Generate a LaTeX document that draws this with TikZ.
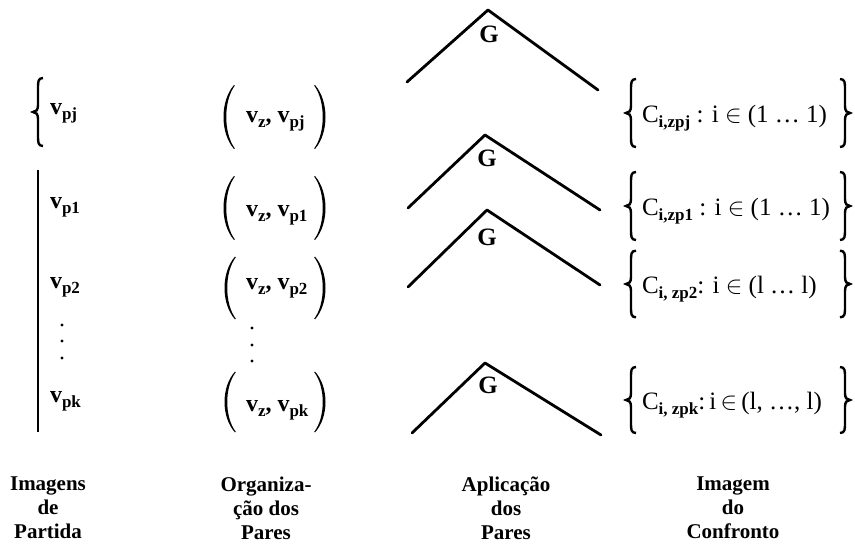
\documentclass[tikz,border=0pt]{standalone}
\usepackage{fontspec}
\setmainfont{Liberation Serif}
\newcommand{\vbsub}[2]{\textbf{#1}\raisebox{-5pt}{\fontsize{17}{17}\selectfont\bfseries #2}}
\newcommand{\csub}[1]{C\raisebox{-5pt}{\fontsize{17}{17}\selectfont\bfseries #1}}
\begin{document}
\begin{tikzpicture}[x=1pt,y=-1pt,
  every node/.style={inner sep=0pt, outer sep=0pt},
  vtext/.style={anchor=base west, font=\fontsize{24}{26}\selectfont},
  ctext/.style={anchor=base west, font=\fontsize{25}{27}\selectfont},
  gnode/.style={font=\fontsize{25}{26}\selectfont\bfseries},
  chev/.style={line width=2.8pt, line cap=round, line join=round},
  lbl/.style={align=center, font=\fontsize{21}{24}\selectfont\bfseries},
  dotm/.style={circle, fill=black, minimum size=3.4pt, inner sep=0pt},
  lpar/.pic={\fill (5,-32) .. controls (-9,-16) and (-9,16) .. (5,32)
      -- (5.8,31.4) .. controls (-5.6,16) and (-5.6,-16) .. (5.8,-31.4) -- cycle;},
  rpar/.pic={\fill (-5,-32) .. controls (9,-16) and (9,16) .. (-5,32)
      -- (-5.8,31.4) .. controls (5.6,16) and (5.6,-16) .. (-5.8,-31.4) -- cycle;},
  lbrace/.pic={\draw[line width=2.4pt] (5,-34) .. controls (0,-34) and (0,-30) .. (0,-24)
      -- (0,-7) .. controls (0,-2) and (-2,0) .. (-5,0) .. controls (-2,0) and (0,2) .. (0,7)
      -- (0,24) .. controls (0,30) and (0,34) .. (5,34);},
  rbrace/.pic={\draw[line width=2.4pt] (-5,-34) .. controls (0,-34) and (0,-30) .. (0,-24)
      -- (0,-7) .. controls (0,-2) and (2,0) .. (5,0) .. controls (2,0) and (0,2) .. (0,7)
      -- (0,24) .. controls (0,30) and (0,34) .. (-5,34);}]
\useasboundingbox (0,0) rectangle (855,546);

% ---------- column 1 : Imagens de Partida
\pic at (38,112) {lbrace};
\node[vtext] (c1r1) at (50,114) {\vbsub{v}{pj}};
\coordinate (bartop) at (38,170);
\coordinate (barbot) at (38,432);
\draw[line width=2.4pt] (bartop) -- (barbot);
\node[vtext] (c1r2) at (50,208) {\vbsub{v}{p1}};
\node[vtext] (c1r3) at (50,288) {\vbsub{v}{p2}};
\node[dotm] (d1a) at (62,325) {};
\node[dotm] (d1b) at (62,341) {};
\node[dotm] (d1c) at (62,358) {};
\node[vtext] (c1r4) at (50,402) {\vbsub{v}{pk}};

% ---------- column 2 : Organizacao dos Pares
\pic at (229,117) {lpar};
\pic at (320,117) {rpar};
\node[vtext] (c2r1) at (246,122) {\vbsub{v}{z}\textbf{,} \vbsub{v}{pj}};
\pic at (229,208) {lpar};
\pic at (320,208) {rpar};
\node[vtext] (c2r2) at (246,216) {\vbsub{v}{z}\textbf{,} \vbsub{v}{p1}};
\pic[yscale=0.98] at (230,288) {lpar};
\pic[yscale=0.98] at (320,288) {rpar};
\node[vtext] (c2r3) at (246,289) {\vbsub{v}{z}\textbf{,} \vbsub{v}{p2}};
\node[dotm] (d2a) at (252,328) {};
\node[dotm] (d2b) at (252,345) {};
\node[dotm] (d2c) at (252,361) {};
\pic[yscale=0.95] at (230,402) {lpar};
\pic[yscale=0.95] at (320,402) {rpar};
\node[vtext] (c2r4) at (246,411) {\vbsub{v}{z}\textbf{,} \vbsub{v}{pk}};

% ---------- column 3 : Aplicacao dos Pares
\coordinate (a1l) at (407,82);  \coordinate (a1t) at (488,10);  \coordinate (a1r) at (598,90);
\coordinate (a2l) at (408,208); \coordinate (a2t) at (485,135); \coordinate (a2r) at (600,210);
\coordinate (a3l) at (408,287); \coordinate (a3t) at (487,210); \coordinate (a3r) at (600,285);
\coordinate (a4l) at (412,433); \coordinate (a4t) at (485,363); \coordinate (a4r) at (601,435);
\draw[chev] (a1l) -- (a1t) -- (a1r);
\draw[chev] (a2l) -- (a2t) -- (a2r);
\draw[chev] (a3l) -- (a3t) -- (a3r);
\draw[chev] (a4l) -- (a4t) -- (a4r);
\node[gnode] (g1) at (489,34) {G};
\node[gnode] (g2) at (487,158) {G};
\node[gnode] (g3) at (487,237) {G};
\node[gnode] (g4) at (488,385) {G};

% ---------- column 4 : Imagem do Confronto
\pic at (631,113) {lbrace};
\pic at (845,113) {rbrace};
\node[ctext] (c4r1) at (642,122) {\csub{i,zpj} : i $\in$ (1 \dots\ 1)};
\pic at (631,206) {lbrace};
\pic at (845,206) {rbrace};
\node[ctext] (c4r2) at (642,215) {\csub{i,zp1} : i $\in$ (1 \dots\ 1)};
\pic[yscale=0.98] at (631,284) {lbrace};
\pic[yscale=0.98] at (845,284) {rbrace};
\node[ctext] (c4r3) at (642,293) {\csub{i, zp2}: i $\in$ (l \dots\ l)};
\pic[yscale=0.97] at (631,400) {lbrace};
\pic[yscale=0.97] at (845,400) {rbrace};
\node[ctext] (c4r4) at (642,409) {\csub{i, zpk}:\,i\,$\in$\,(l, \dots, l)};

% ---------- captions
\node[lbl] (cap1) at (48,508) {Imagens\\de\\Partida};
\node[lbl] (cap2) at (266,508) {Organiza-\\ção dos\\Pares};
\node[lbl] (cap3) at (506,508) {Aplicação\\dos\\Pares};
\node[lbl] (cap4) at (733,508) {Imagem\\do\\Confronto};
\end{tikzpicture}
\end{document}
